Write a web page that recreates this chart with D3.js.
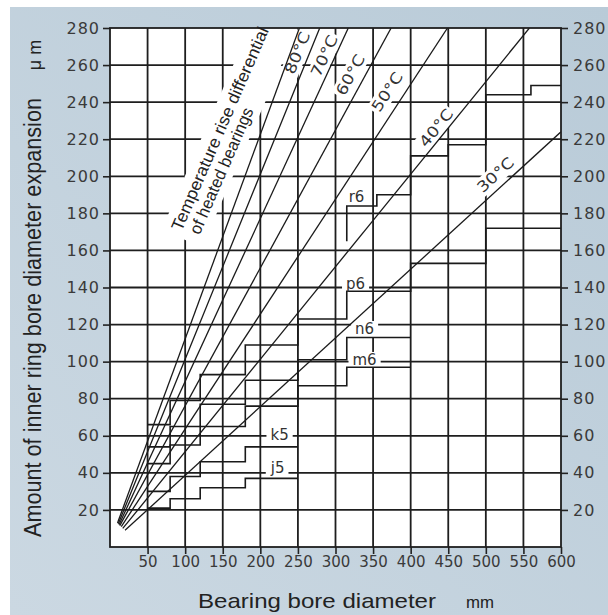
<!DOCTYPE html>
<html>
<head>
<meta charset="utf-8">
<script src="https://cdn.jsdelivr.net/npm/d3@7"></script>
<style>
    body { margin: 0; background: #fff; }
    svg { display: block; }
    .tick-label { font-family: "DejaVu Sans", sans-serif; font-size: 16px; fill: #3a3a3a; letter-spacing: 1px; }
    .x-tick-label { font-family: "DejaVu Sans", sans-serif; font-size: 15px; fill: #3a3a3a; }
    .axis-title { font-family: "Liberation Sans", Arial, sans-serif; fill: #222; }
    .fit-label { font-family: "DejaVu Sans", sans-serif; font-size: 15px; fill: #333; }
    .temp-label { font-family: "DejaVu Sans", sans-serif; font-size: 15px; fill: #333; }
    .note { font-family: "Liberation Sans", Arial, sans-serif; font-size: 17px; fill: #222; }
</style>
</head>
<body>
<svg id="chart"></svg>
<script>
// bearing bore diameter (mm) and expansion (um) ticks
const boreTicks = [50, 100, 150, 200, 250, 300, 350, 400, 450, 500, 550, 600];
const expansionTicks = [20, 40, 60, 80, 100, 120, 140, 160, 180, 200, 220, 240, 260, 280];

// temperature rise lines, start and end point [mm, um]
const tempLabels = ["", "80°C", "70°C", "60°C", "50°C", "40°C", "30°C"];
const tempStart = [[10, 13], [11, 12.5], [12, 12], [13, 11.5], [15, 11], [17, 10], [20, 9]];
const tempEnd = [[252, 280], [279, 280], [317, 280], [374, 280], [449, 280], [558, 280], [600, 224]];

// max interference by shaft fit, step edges (mm) and values (um)
const fitNames = ["j5", "k5", "m6", "n6", "p6", "r6"];
const j5Sizes = [50, 80, 120, 180, 250];
const j5Values = [21, 26, 32, 37];
const k5Sizes = [50, 80, 120, 180, 250];
const k5Values = [30, 38, 46, 54];
const m6Sizes = [50, 80, 120, 180, 250, 315, 400];
const m6Values = [45, 55, 65, 76, 87, 97];
const n6Sizes = [50, 80, 120, 180, 250, 315, 400];
const n6Values = [54, 65, 77, 90, 101, 113];
const p6Sizes = [50, 80, 120, 180, 250, 315, 400, 500, 600];
const p6Values = [66, 79, 93, 109, 123, 138, 153, 172];
const r6Sizes = [315, 355, 400, 450, 500, 560, 600];
const r6Values = [184, 190, 211, 217, 244, 249];
const r6From = 165;

// where the labels sit, in chart units
const tempLabelAt = [null, [249.6, 266.5], [285.4, 264.9], [320, 254.6], [369, 245.5], [434, 226], [513, 200.7]];
const fitLabelAt = [[223, 42.6], [225.6, 60.3], [338.7, 100.9], [338.7, 117.6], [326.7, 141.9], [328, 188.8]];
const noteAt = [95, 170];

class ExpansionChart {
    constructor(_config) {
        this.config = {
            parentElement: _config.parentElement,
            containerWidth: _config.containerWidth || 608,
            containerHeight: _config.containerHeight || 615,
            margin: _config.margin || { top: 28, right: 47, bottom: 68, left: 110 }
        };
        this.initVis();
    }

    initVis() {
        let vis = this;
        const m = vis.config.margin;
        vis.width = vis.config.containerWidth - m.left - m.right;
        vis.height = vis.config.containerHeight - m.top - m.bottom;

        vis.xScale = d3.scaleLinear().domain([0, 600]).range([0, vis.width]);
        vis.yScale = d3.scaleLinear().domain([0, 280]).range([vis.height, 0]);

        vis.svg = d3.select(vis.config.parentElement)
            .attr("width", vis.config.containerWidth)
            .attr("height", vis.config.containerHeight);

        const defs = vis.svg.append("defs");
        const grad = defs.append("linearGradient").attr("id", "bg")
            .attr("x1", 1).attr("y1", 0).attr("x2", 0).attr("y2", 1);
        grad.append("stop").attr("offset", "0%").attr("stop-color", "#b9cbd8");
        grad.append("stop").attr("offset", "100%").attr("stop-color", "#cbd8e2");
        defs.append("clipPath").attr("id", "plot-clip")
            .append("rect").attr("width", vis.width).attr("height", vis.height);

        vis.svg.append("rect")
            .attr("x", 10).attr("y", 7)
            .attr("width", vis.config.containerWidth - 10)
            .attr("height", vis.config.containerHeight - 7)
            .attr("fill", "url(#bg)");

        vis.chart = vis.svg.append("g")
            .attr("transform", `translate(${m.left},${m.top})`);

        vis.chart.append("rect")
            .attr("width", vis.width).attr("height", vis.height)
            .attr("fill", "#fff");

        vis.gridG = vis.chart.append("g");
        vis.maskG = vis.chart.append("g").attr("clip-path", "url(#plot-clip)");
        vis.lineG = vis.chart.append("g").attr("clip-path", "url(#plot-clip)");
        vis.stepG = vis.chart.append("g");
        vis.textG = vis.chart.append("g");

        vis.xAxis = d3.axisBottom(vis.xScale).tickValues(boreTicks).tickSize(7).tickPadding(2.5);
        vis.yAxisL = d3.axisLeft(vis.yScale).tickValues(expansionTicks).tickSize(7).tickPadding(3);
        vis.yAxisR = d3.axisRight(vis.yScale).tickValues(expansionTicks).tickSize(7).tickPadding(5);

        vis.xAxisG = vis.chart.append("g").attr("transform", `translate(0,${vis.height})`);
        vis.yAxisLG = vis.chart.append("g");
        vis.yAxisRG = vis.chart.append("g").attr("transform", `translate(${vis.width},0)`);

        vis.updateVis();
    }

    updateVis() {
        let vis = this;

        vis.fits = fitNames.map((name, i) => ({
            name: name,
            sizes: [j5Sizes, k5Sizes, m6Sizes, n6Sizes, p6Sizes, r6Sizes][i],
            values: [j5Values, k5Values, m6Values, n6Values, p6Values, r6Values][i],
            from: name === "r6" ? r6From : null,
            labelAt: fitLabelAt[i]
        }));

        vis.temps = tempLabels.map((t, i) => ({
            label: t,
            start: tempStart[i],
            end: tempEnd[i],
            labelAt: tempLabelAt[i]
        }));

        vis.line = d3.line()
            .x(d => vis.xScale(d[0]))
            .y(d => vis.yScale(d[1]));

        vis.renderVis();
    }

    renderVis() {
        let vis = this;

        // grid
        vis.gridG.selectAll(".vgrid")
            .data(boreTicks.slice(0, -1))
            .join("line")
            .attr("class", "vgrid")
            .attr("x1", d => vis.xScale(d)).attr("x2", d => vis.xScale(d))
            .attr("y1", 0).attr("y2", vis.height)
            .attr("stroke", "#1e1e1e").attr("stroke-width", 1.8);

        vis.gridG.selectAll(".hgrid")
            .data(expansionTicks.slice(0, -1))
            .join("line")
            .attr("class", "hgrid")
            .attr("x1", 0).attr("x2", vis.width)
            .attr("y1", d => vis.yScale(d)).attr("y2", d => vis.yScale(d))
            .attr("stroke", "#1e1e1e").attr("stroke-width", 1.8);

        // axes
        const styleAxis = (g, cls) => {
            g.select(".domain").remove();
            g.selectAll(".tick line").attr("stroke", "#222").attr("stroke-width", 1.6);
            g.selectAll(".tick text").attr("class", cls).attr("fill", null);
        };
        vis.xAxisG.call(vis.xAxis).call(g => styleAxis(g, "x-tick-label"));
        vis.yAxisLG.call(vis.yAxisL).call(g => styleAxis(g, "tick-label"));
        vis.yAxisRG.call(vis.yAxisR).call(g => styleAxis(g, "tick-label"));
        vis.chart.selectAll(".tick text").attr("font-family", null).attr("font-size", null);

        // note about the temperature lines
        const note = vis.textG.append("g")
            .attr("transform", `translate(${vis.xScale(noteAt[0])},${vis.yScale(noteAt[1])}) rotate(-66.5)`);
        note.append("text").attr("class", "note")
            .attr("x", 0).attr("y", 0)
            .attr("textLength", 220).attr("lengthAdjust", "spacingAndGlyphs")
            .text("Temperature rise differential");
        note.append("text").attr("class", "note")
            .attr("x", 4).attr("y", 18)
            .attr("textLength", 136).attr("lengthAdjust", "spacingAndGlyphs")
            .text("of heated bearings");
        vis.maskG.append("rect")
            .attr("transform", note.attr("transform"))
            .attr("x", -6).attr("y", -19).attr("width", 260).attr("height", 44)
            .attr("fill", "#fff");

        // temperature lines
        vis.lineG.selectAll(".temp-line")
            .data(vis.temps)
            .join("path")
            .attr("class", "temp-line")
            .attr("d", d => vis.line([d.start, d.end]))
            .attr("fill", "none")
            .attr("stroke", "#1a1a1a")
            .attr("stroke-width", 1.3);

        vis.temps.filter(d => d.label).forEach(d => {
            const dx = vis.xScale(d.end[0]) - vis.xScale(d.start[0]);
            const dy = vis.yScale(d.start[1]) - vis.yScale(d.end[1]);
            const angle = Math.atan2(dy, dx) * 180 / Math.PI;
            const tf = `translate(${vis.xScale(d.labelAt[0])},${vis.yScale(d.labelAt[1])}) rotate(${-angle})`;
            const t = vis.textG.append("text")
                .attr("class", "temp-label")
                .attr("transform", tf)
                .attr("text-anchor", "middle")
                .attr("dominant-baseline", "central")
                .attr("textLength", 44).attr("lengthAdjust", "spacingAndGlyphs")
                .text(d.label);
            const b = t.node().getBBox();
            vis.maskG.append("rect")
                .attr("transform", tf)
                .attr("x", b.x - 2).attr("y", b.y)
                .attr("width", b.width + 4).attr("height", b.height)
                .attr("fill", "#fff");
        });

        // fit steps
        const stepPoints = f => {
            const pts = [];
            if (f.from !== null) pts.push([f.sizes[0], f.from]);
            f.values.forEach((v, i) => {
                pts.push([f.sizes[i], v]);
                pts.push([f.sizes[i + 1], v]);
            });
            return pts;
        };

        vis.stepG.selectAll(".fit-step")
            .data(vis.fits)
            .join("path")
            .attr("class", d => `fit-step ${d.name}`)
            .attr("d", d => vis.line(stepPoints(d)))
            .attr("fill", "none")
            .attr("stroke", "#1a1a1a")
            .attr("stroke-width", 1.6);

        vis.fits.forEach(f => {
            const t = vis.textG.append("text")
                .attr("class", "fit-label")
                .attr("x", vis.xScale(f.labelAt[0]))
                .attr("y", vis.yScale(f.labelAt[1]))
                .attr("text-anchor", "middle")
                .attr("dominant-baseline", "central")
                .text(f.name);
            const b = t.node().getBBox();
            vis.maskG.append("rect")
                .attr("x", b.x - 4).attr("y", b.y + 1)
                .attr("width", b.width + 8).attr("height", b.height - 2)
                .attr("fill", "#fff");
        });

        // frame
        vis.chart.append("rect")
            .attr("width", vis.width).attr("height", vis.height)
            .attr("fill", "none")
            .attr("stroke", "#1e1e1e").attr("stroke-width", 1.8);

        // axis titles
        vis.svg.append("text")
            .attr("class", "axis-title")
            .attr("x", 198).attr("y", 608)
            .attr("font-size", 21)
            .attr("textLength", 238).attr("lengthAdjust", "spacingAndGlyphs")
            .text("Bearing bore diameter");
        vis.svg.append("text")
            .attr("class", "axis-title")
            .attr("x", 466).attr("y", 608)
            .attr("font-size", 17)
            .attr("textLength", 28).attr("lengthAdjust", "spacingAndGlyphs")
            .text("mm");

        vis.svg.append("text")
            .attr("class", "axis-title")
            .attr("transform", "translate(41,317.5) rotate(-90)")
            .attr("text-anchor", "middle")
            .attr("font-size", 23)
            .attr("textLength", 439).attr("lengthAdjust", "spacingAndGlyphs")
            .text("Amount of inner ring bore diameter expansion");
        vis.svg.append("text")
            .attr("class", "axis-title")
            .attr("transform", "translate(41,55) rotate(-90)")
            .attr("text-anchor", "middle")
            .attr("font-size", 18)
            .text("μ m");
    }
}

new ExpansionChart({ parentElement: "#chart" });
</script>
</body>
</html>
